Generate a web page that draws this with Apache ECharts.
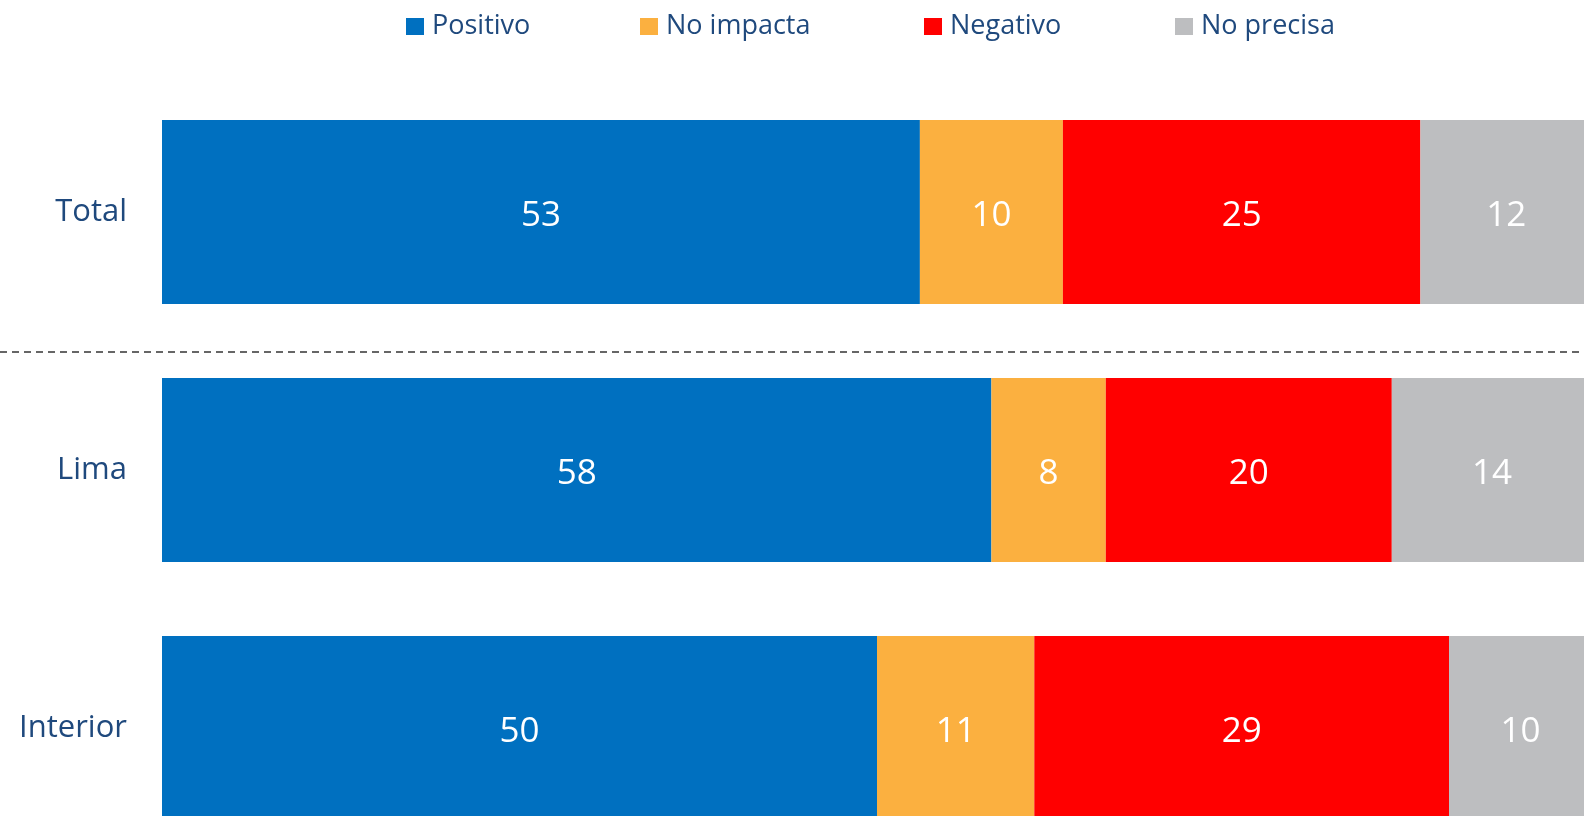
<!DOCTYPE html>
<html lang="es">
<head>
  <meta charset="UTF-8">
  <title>Impacto</title>
  <script src="https://cdn.jsdelivr.net/npm/echarts@6/dist/echarts.min.js"></script>
</head>
<body style="margin:0;background:#fff;">
<div id="main" style="width: 1584px;height:816px;"></div>
<script type="text/javascript">

const categories = ['Total', 'Lima', 'Interior'];
const positivo = [53, 58, 50];
const noImpacta = [10, 8, 11];
const negativo = [25, 20, 29];
const noPrecisa = [12, 14, 10];

const names = ['Positivo', 'No impacta', 'Negativo', 'No precisa'];
const values = [positivo, noImpacta, negativo, noPrecisa];
const colors = ['#0070C0', '#FBB040', '#FF0000', '#BDBEC0'];
const legendLeft = [406, 640, 924, 1175];

const textColor = '#1F497D';
const font = '"Open Sans", sans-serif';

const myChart = echarts.init(document.getElementById('main'));

const option = {
  animation: false,
  legend: names.map(function (n, i) {
    return {
      data: [n],
      left: legendLeft[i],
      top: 13,
      padding: 0,
      icon: 'rect',
      itemWidth: 18,
      itemHeight: 17,
      itemGap: 8,
      textStyle: {color: textColor, fontSize: 27, fontFamily: font, padding: [5, 0, 0, 3]}
    };
  }),
  grid: {left: 162, top: 83, width: 1430, height: 774, containLabel: false, outerBoundsMode: 'none'},
  xAxis: {
    type: 'value',
    min: 0,
    max: 100,
    show: false
  },
  yAxis: {
    type: 'category',
    data: categories,
    inverse: true,
    axisLine: {show: false},
    axisTick: {show: false},
    splitLine: {show: false},
    axisLabel: {color: textColor, fontSize: 31, fontFamily: font, margin: 35, padding: [6, 0, 0, 0]}
  },
  graphic: [
    {
      type: 'line',
      shape: {x1: 0, y1: 352, x2: 1584, y2: 352},
      style: {stroke: '#666666', lineWidth: 2, lineDash: [7, 5]}
    }
  ],
  series: names.map(function (n, i) {
    return {
      name: n,
      type: 'bar',
      stack: 'total',
      barWidth: 184,
      data: values[i],
      itemStyle: {color: colors[i]},
      label: {
        show: true,
        position: 'inside',
        offset: [0, 4],
        color: '#ffffff',
        fontSize: 35,
        fontFamily: font
      }
    };
  })
};
myChart.setOption(option);
</script>
</body>
</html>
